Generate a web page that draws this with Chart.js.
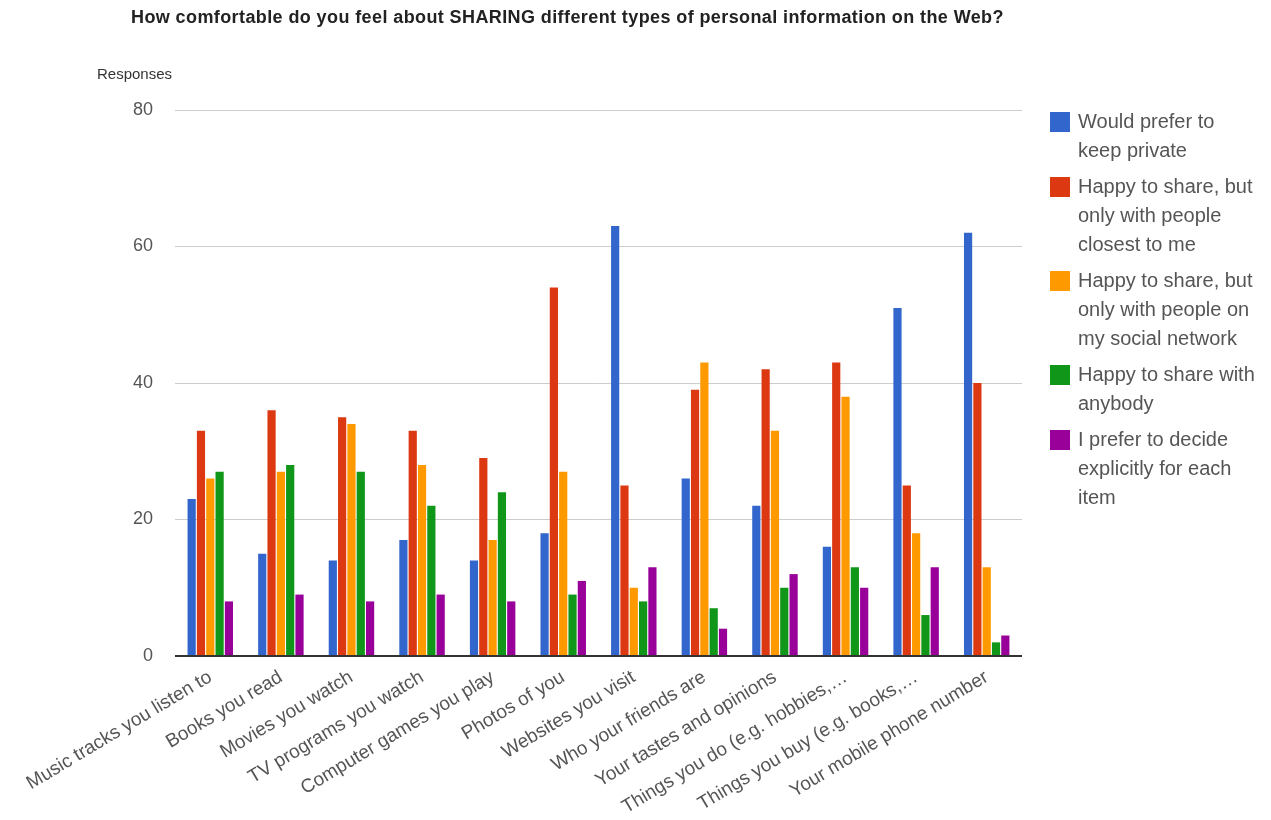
<!DOCTYPE html>
<html>
<head>
<meta charset="utf-8">
<script src="https://cdn.jsdelivr.net/npm/chart.js@4"></script>
<style>
  html, body { margin: 0; padding: 0; background: #fff; }
  #wrap { width: 1271px; height: 820px; position: relative; }
</style>
</head>
<body>
<div id="wrap"><canvas id="sharingChart" width="1271" height="820"></canvas></div>
<script>
// categories (x axis)
const categories = [
    'Music tracks you listen to',
    'Books you read',
    'Movies you watch',
    'TV programs you watch',
    'Computer games you play',
    'Photos of you',
    'Websites you visit',
    'Who your friends are',
    'Your tastes and opinions',
    'Things you do (e.g. hobbies,…',
    'Things you buy (e.g. books,…',
    'Your mobile phone number'
];

// series names
const seriesNames = [
    'Would prefer to keep private',
    'Happy to share, but only with people closest to me',
    'Happy to share, but only with people on my social network',
    'Happy to share with anybody',
    'I prefer to decide explicitly for each item'
];

// values
const keepPrivate   = [23, 15, 14, 17, 14, 18, 63, 26, 22, 16, 51, 62];
const closestOnly   = [33, 36, 35, 33, 29, 54, 25, 39, 42, 43, 25, 40];
const networkOnly   = [26, 27, 34, 28, 17, 27, 10, 43, 33, 38, 18, 13];
const anybody       = [27, 28, 27, 22, 24,  9,  8,  7, 10, 13,  6,  2];
const decideEach    = [ 8,  9,  8,  9,  8, 11, 13,  4, 12, 10, 13,  3];

const yTicks = [0, 20, 40, 60, 80];

const colors = ['#3366cc', '#dc3912', '#ff9900', '#109618', '#990099'];
const seriesValues = [keepPrivate, closestOnly, networkOnly, anybody, decideEach];

const FONT = '"Liberation Sans", Arial, sans-serif';

// title, axis caption and wrapped legend drawn on the canvas
const extrasPlugin = {
    id: 'extras',
    afterDraw(chart) {
        const ctx = chart.ctx;
        ctx.save();
        ctx.fillStyle = '#222';
        ctx.font = 'bold 18px ' + FONT;
        ctx.letterSpacing = '0.4px';
        ctx.textBaseline = 'middle';
        ctx.textAlign = 'left';
        ctx.fillText('How comfortable do you feel about SHARING different types of personal information on the Web?', 131, 18);
        ctx.letterSpacing = '0px';

        ctx.fillStyle = '#333';
        ctx.font = '15px ' + FONT;
        ctx.fillText('Responses', 97, 75);

        // legend, wrapped like the original
        ctx.font = '20px ' + FONT;
        let y = 122;
        const lineH = 29;
        chart.data.datasets.forEach((ds, i) => {
            const words = ds.label.split(' ');
            const lines = [];
            let cur = '';
            words.forEach(w => {
                const test = cur ? cur + ' ' + w : w;
                if (ctx.measureText(test).width > 180 && cur) {
                    lines.push(cur);
                    cur = w;
                } else {
                    cur = test;
                }
            });
            if (cur) lines.push(cur);

            ctx.fillStyle = ds.backgroundColor;
            ctx.fillRect(1050, y - 10, 20, 20);
            ctx.fillStyle = '#555';
            lines.forEach((ln, k) => {
                ctx.fillText(ln, 1078, y + k * lineH);
            });
            y += lines.length * lineH + 7;
        });
        ctx.restore();
    }
};

const ctx = document.getElementById('sharingChart').getContext('2d');
const chart = new Chart(ctx, {
    type: 'bar',
    data: {
        labels: categories,
        datasets: seriesNames.map((name, i) => ({
            label: name,
            data: seriesValues[i],
            backgroundColor: colors[i],
            categoryPercentage: 0.66,
            barPercentage: 0.88
        }))
    },
    options: {
        responsive: false,
        animation: false,
        layout: { padding: { top: 110, right: 249, bottom: 0, left: 0 } },
        plugins: {
            legend: { display: false },
            title: { display: false },
            tooltip: { enabled: false }
        },
        scales: {
            x: {
                grid: { display: false },
                border: { display: false },
                ticks: {
                    color: '#555',
                    font: { family: FONT, size: 19 },
                    minRotation: 31,
                    maxRotation: 31,
                    autoSkip: false,
                    padding: 2
                },
                afterFit(scale) { scale.height = 164; }
            },
            y: {
                min: 0,
                max: 80,
                afterBuildTicks(scale) {
                    scale.ticks = yTicks.map(v => ({ value: v }));
                },
                grid: {
                    drawTicks: false,
                    color: c => c.tick && c.tick.value === 0 ? '#333' : '#cccccc',
                    lineWidth: c => c.tick && c.tick.value === 0 ? 2 : 1
                },
                border: { display: false },
                ticks: {
                    color: '#555',
                    font: { family: FONT, size: 18 },
                    padding: 22
                },
                afterFit(scale) { scale.width = 175; }
            }
        }
    },
    plugins: [extrasPlugin]
});
</script>
</body>
</html>
